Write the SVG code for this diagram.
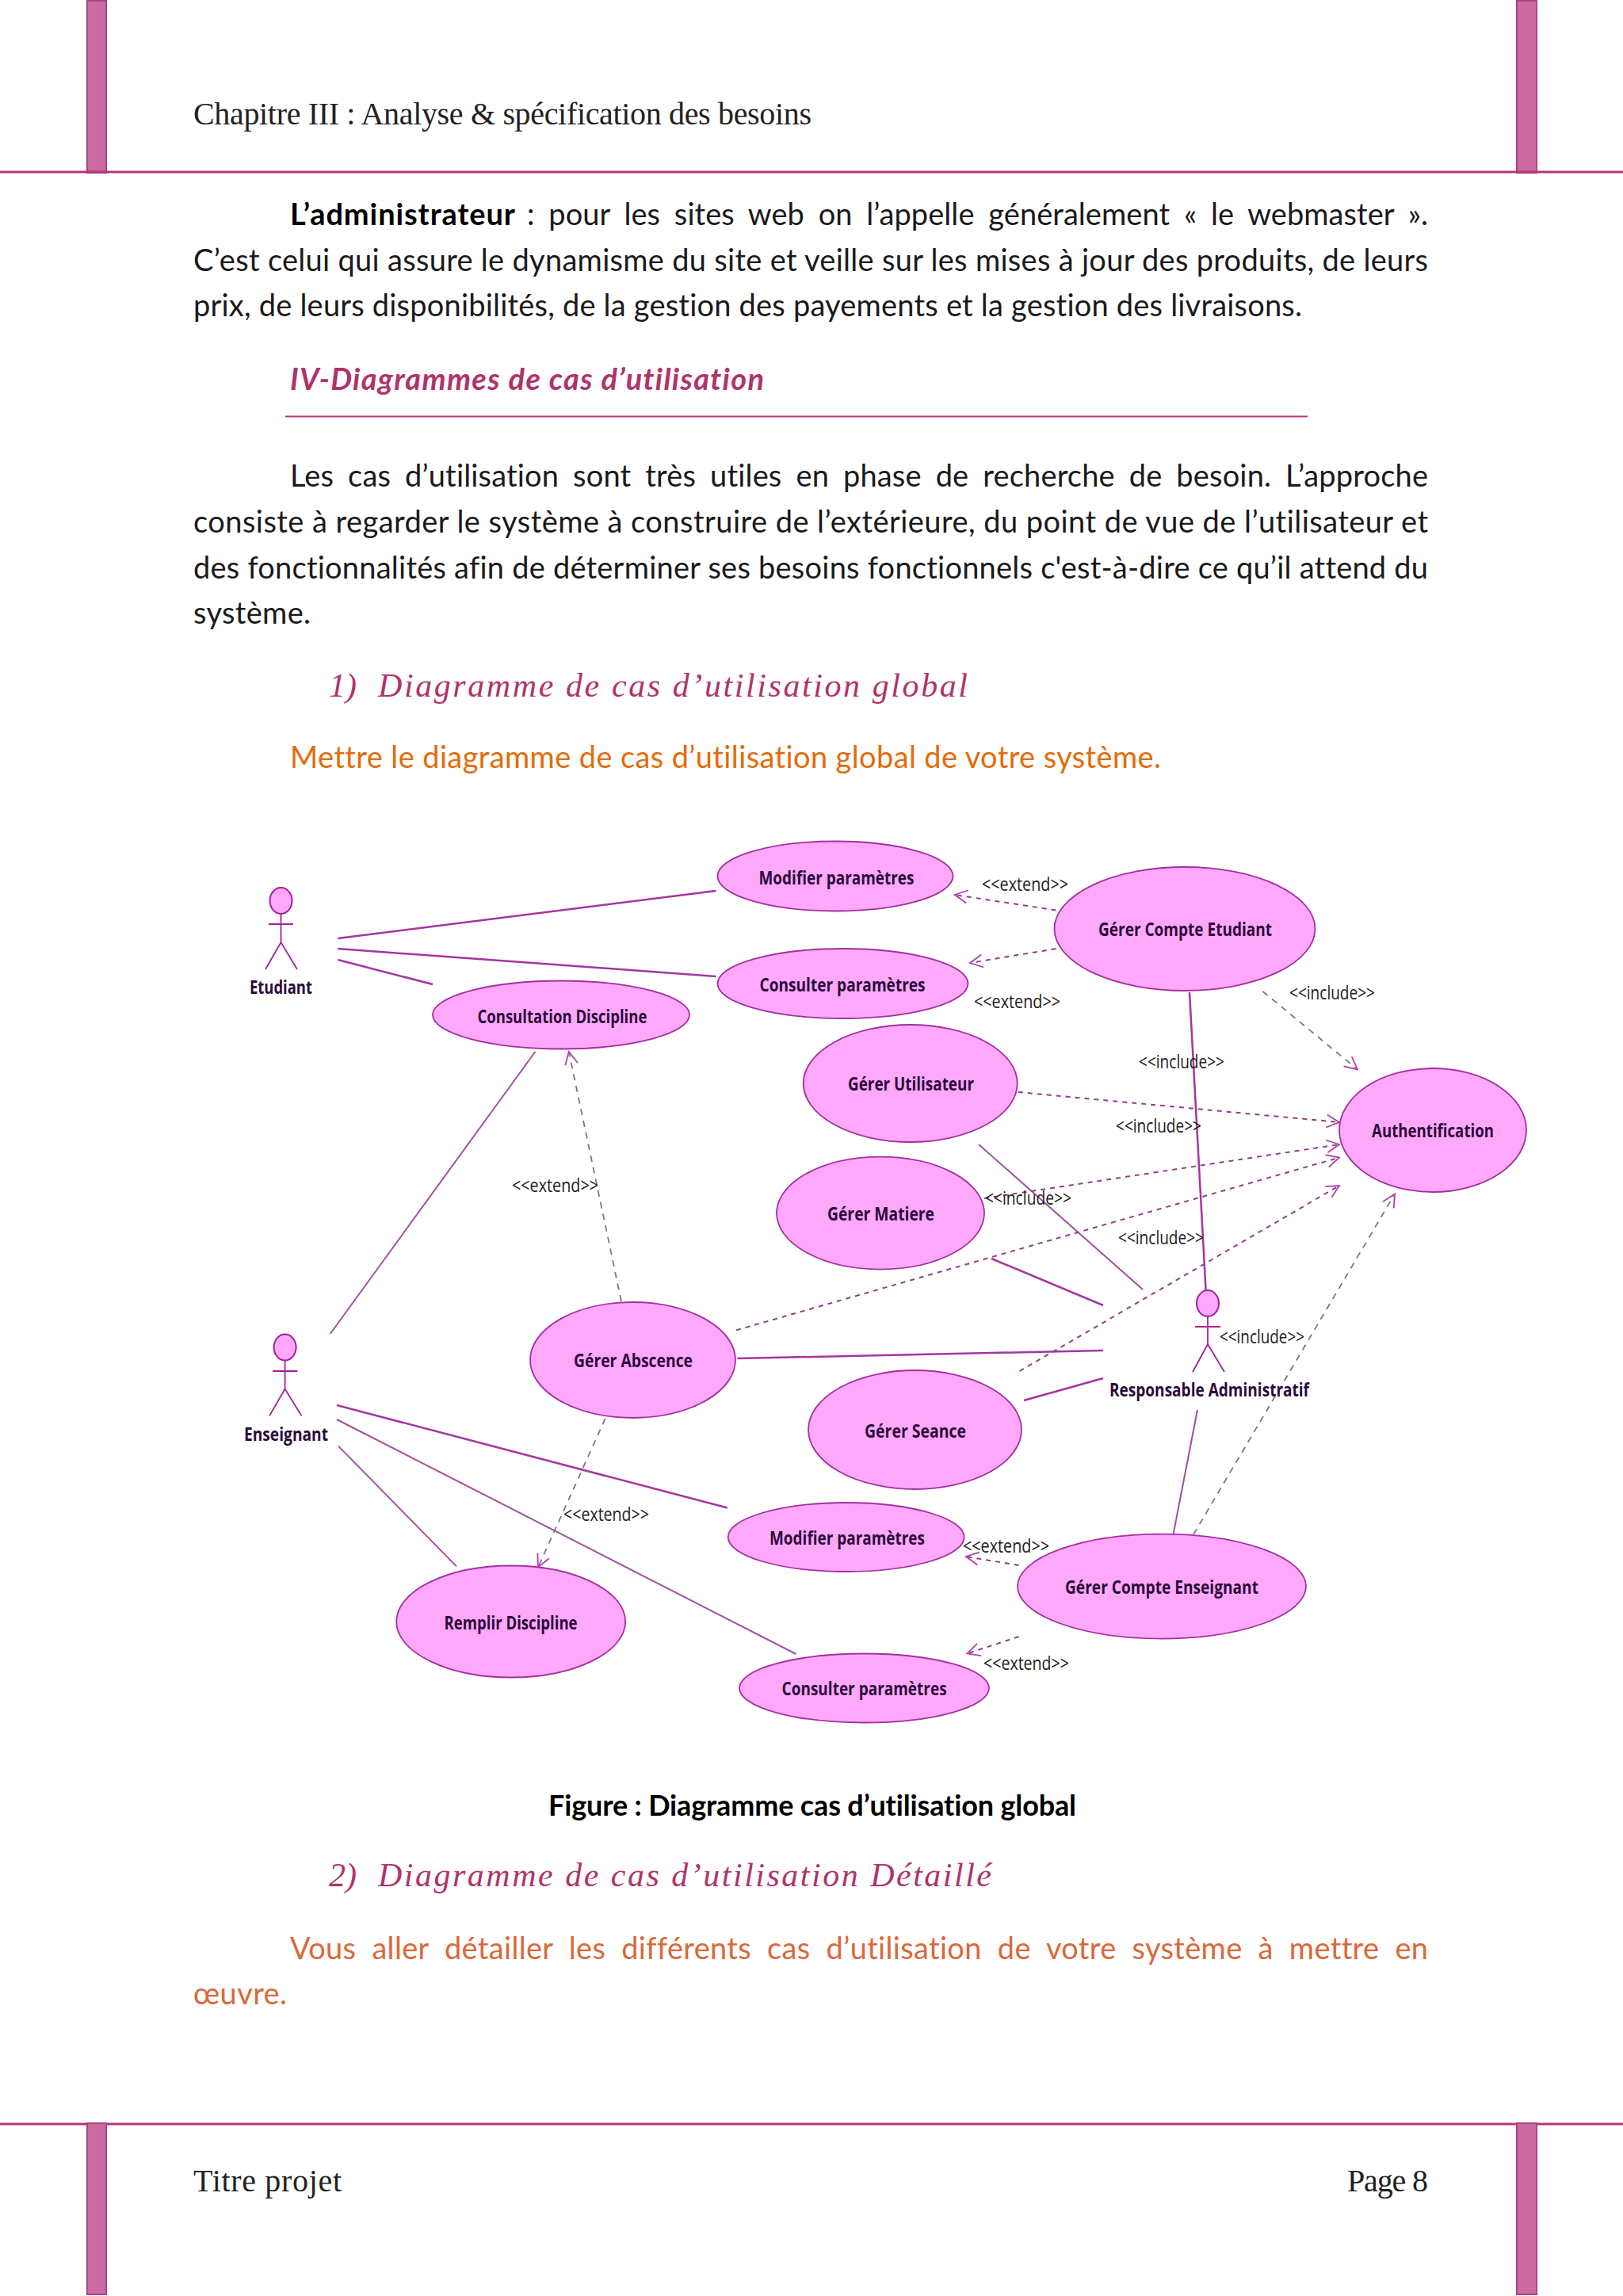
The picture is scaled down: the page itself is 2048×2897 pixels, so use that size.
<svg xmlns="http://www.w3.org/2000/svg" width="2048" height="2897" viewBox="0 0 2048 2897">
<style>
text{font-variant-ligatures:none}
.body{font-family:"Lato","Liberation Sans",sans-serif;font-size:38px;fill:#1a1a1a}
.b{font-weight:700;fill:#000}
.fig{font-size:36px}
.hdr{font-family:"Liberation Serif",serif;font-size:40px;fill:#222}
.h1{font-family:"Lato","Liberation Sans",sans-serif;font-size:38px;font-weight:700;font-style:italic;fill:#b0336a}
.h2{font-family:"Liberation Serif",serif;font-size:42px;font-style:italic;fill:#b0336a}
.or1{fill:#e36c0a}.or2{fill:#d9693a}
.bar{fill:#cb6aa3;stroke:#a8447f;stroke-width:2}
.rule{stroke:#b5357a;stroke-width:3}
.uc{fill:#ffa8fc;stroke:#a3309c;stroke-width:1.8}
.head{fill:#ffa8fc;stroke:#a3209c;stroke-width:2}
.limb{fill:none;stroke:#a3209c;stroke-width:1.8}
.nm{font-family:"Open Sans","Liberation Sans",sans-serif;font-size:24px;font-weight:700;fill:#2a0a3a}
.st{font-family:"Open Sans","Liberation Sans",sans-serif;font-size:23px;fill:#222}
.s{stroke:#a6359e;stroke-width:2.5;fill:none}
.t{stroke:#a050a0;stroke-width:2;fill:none}
.d{stroke:#8e3f8e;stroke-width:2;stroke-dasharray:6 6;fill:none;marker-end:url(#open)}
.g{stroke:#85708a;stroke-width:1.8;stroke-dasharray:8 7;fill:none;marker-end:url(#open)}
</style>
<defs>
<marker id="open" markerUnits="userSpaceOnUse" markerWidth="30" markerHeight="30" refX="22" refY="15" orient="auto">
<path d="M6 7 L22 15 L6 23" fill="none" stroke="#b040b0" stroke-width="1.8"/>
</marker>
</defs>
<rect width="2048" height="2897" fill="#fff"/>

<g id="page">
<rect class="bar" x="110" y="1" width="24" height="217"/>
<rect class="bar" x="1914" y="1" width="25" height="217"/>
<line class="rule" x1="0" y1="217" x2="2048" y2="217"/>
<text class="hdr" x="244" y="157" textLength="780">Chapitre III : Analyse &amp; spécification des besoins</text>
<text class="body b" x="366" y="284" textLength="284">L’administrateur</text>
<text class="body" x="665" y="284" textLength="1137" word-spacing="8">: pour les sites web on l’appelle généralement « le webmaster ».</text>
<text class="body" x="244" y="342" textLength="1558">C’est celui qui assure le dynamisme du site et veille sur les mises à jour des produits, de leurs</text>
<text class="body" x="244" y="399" textLength="1399">prix, de leurs disponibilités, de la gestion des payements et la gestion des livraisons.</text>
<text class="h1" x="366" y="492" textLength="598">IV-Diagrammes de cas d’utilisation</text>
<line x1="360" y1="525.5" x2="1650" y2="525.5" stroke="#b5357a" stroke-width="2"/>
<text class="body" x="366" y="614" textLength="1436" word-spacing="8">Les cas d’utilisation sont très utiles en phase de recherche de besoin. L’approche</text>
<text class="body" x="244" y="672" textLength="1558">consiste à regarder le système à construire de l’extérieure, du point de vue de l’utilisateur et</text>
<text class="body" x="244" y="730" textLength="1558">des fonctionnalités afin de déterminer ses besoins fonctionnels c'est-à-dire ce qu’il attend du</text>
<text class="body" x="244" y="787" textLength="148">système.</text>
<text class="h2" x="415" y="879">1)</text>
<text class="h2" x="477" y="879" textLength="744">Diagramme de cas d’utilisation global</text>
<text class="body or1" x="366" y="969" textLength="1099">Mettre le diagramme de cas d’utilisation global de votre système.</text>
<text class="body b fig" x="692" y="2291" textLength="666">Figure : Diagramme cas d’utilisation global</text>
<text class="h2" x="415" y="2380">2)</text>
<text class="h2" x="477" y="2380" textLength="774">Diagramme de cas d’utilisation Détaillé</text>
<text class="body or2" x="366" y="2472" textLength="1436" word-spacing="10">Vous aller détailler les différents cas d’utilisation de votre système à mettre en</text>
<text class="body or2" x="244" y="2529" textLength="118">œuvre.</text>
<line class="rule" x1="0" y1="2680" x2="2048" y2="2680"/>
<rect class="bar" x="110" y="2679" width="24" height="216"/>
<rect class="bar" x="1914" y="2679" width="25" height="216"/>
<text class="hdr" x="244" y="2765" textLength="187">Titre projet</text>
<text class="hdr" x="1700" y="2765" textLength="102">Page 8</text>
</g>

<g id="connectors">
<line class="s" x1="426.4" y1="1184" x2="903.5" y2="1124"/>
<line class="s" x1="426.4" y1="1197" x2="903.5" y2="1232"/>
<line class="s" x1="426.4" y1="1211" x2="546" y2="1242"/>
<line class="t" x1="675.4" y1="1327" x2="416.7" y2="1683"/>
<line class="s" x1="1501" y1="1252" x2="1521.6" y2="1629"/>
<line class="t" x1="1235" y1="1444" x2="1442" y2="1627"/>
<line class="s" x1="1251" y1="1588" x2="1392" y2="1647"/>
<line class="s" x1="930.5" y1="1714" x2="1392" y2="1704"/>
<line class="s" x1="1292" y1="1767" x2="1392" y2="1739"/>
<line class="t" x1="1511" y1="1779" x2="1480.5" y2="1936"/>
<line class="s" x1="425" y1="1773" x2="917.8" y2="1902.5"/>
<line class="t" x1="425" y1="1791" x2="1004.5" y2="2087"/>
<line class="t" x1="427" y1="1824.6" x2="576" y2="1976.4"/>
<line class="g" x1="784" y1="1642" x2="717.8" y2="1327"/>
<line class="d" x1="1332.5" y1="1148.5" x2="1204.6" y2="1129"/>
<line class="d" x1="1332.5" y1="1197" x2="1224" y2="1215"/>
<line class="g" x1="1593.5" y1="1251" x2="1713" y2="1349.4"/>
<line class="d" x1="1284.8" y1="1378" x2="1690" y2="1416"/>
<line class="d" x1="1242" y1="1512" x2="1690" y2="1444"/>
<line class="d" x1="929" y1="1678.4" x2="1690" y2="1460.5"/>
<line class="d" x1="1286.6" y1="1730" x2="1690" y2="1496"/>
<line class="g" x1="1506" y1="1936" x2="1760" y2="1506.5"/>
<line class="g" x1="763.7" y1="1790" x2="679" y2="1977.5"/>
<line class="d" x1="1285.6" y1="1975" x2="1218.8" y2="1964"/>
<line class="d" x1="1285.6" y1="2065" x2="1220.3" y2="2086.4"/>
<text class="st" x="646" y="1504" textLength="109" lengthAdjust="spacingAndGlyphs">&lt;&lt;extend&gt;&gt;</text>
<text class="st" x="1239" y="1123.5" textLength="109" lengthAdjust="spacingAndGlyphs">&lt;&lt;extend&gt;&gt;</text>
<text class="st" x="1229" y="1272" textLength="109" lengthAdjust="spacingAndGlyphs">&lt;&lt;extend&gt;&gt;</text>
<text class="st" x="711" y="1919" textLength="108" lengthAdjust="spacingAndGlyphs">&lt;&lt;extend&gt;&gt;</text>
<text class="st" x="1215" y="1958.6" textLength="109" lengthAdjust="spacingAndGlyphs">&lt;&lt;extend&gt;&gt;</text>
<text class="st" x="1241" y="2107" textLength="108" lengthAdjust="spacingAndGlyphs">&lt;&lt;extend&gt;&gt;</text>
<text class="st" x="1627" y="1261" textLength="108" lengthAdjust="spacingAndGlyphs">&lt;&lt;include&gt;&gt;</text>
<text class="st" x="1437" y="1348" textLength="108" lengthAdjust="spacingAndGlyphs">&lt;&lt;include&gt;&gt;</text>
<text class="st" x="1408" y="1429" textLength="108" lengthAdjust="spacingAndGlyphs">&lt;&lt;include&gt;&gt;</text>
<text class="st" x="1243" y="1520" textLength="109" lengthAdjust="spacingAndGlyphs">&lt;&lt;include&gt;&gt;</text>
<text class="st" x="1411" y="1569.5" textLength="108" lengthAdjust="spacingAndGlyphs">&lt;&lt;include&gt;&gt;</text>
<text class="st" x="1539" y="1694.5" textLength="107" lengthAdjust="spacingAndGlyphs">&lt;&lt;include&gt;&gt;</text>
</g>

<g id="actor-etudiant">
<ellipse class="head" cx="354.5" cy="1136.5" rx="14" ry="16.5"/>
<path class="limb" d="M354.5 1153V1189M339 1166H370M335 1223L354.5 1189L375 1223"/>
<text class="nm" x="315" y="1254" textLength="79" lengthAdjust="spacingAndGlyphs">Etudiant</text>
</g>
<g id="actor-enseignant">
<ellipse class="head" cx="359.6" cy="1700" rx="14" ry="16.5"/>
<path class="limb" d="M359.6 1716.5V1752.5M344 1730H375.4M340 1786.4L359.6 1752.5L380.5 1786.4"/>
<text class="nm" x="308" y="1818" textLength="106" lengthAdjust="spacingAndGlyphs">Enseignant</text>
</g>
<g id="actor-responsable">
<ellipse class="head" cx="1524" cy="1644.5" rx="14" ry="16.5"/>
<path class="limb" d="M1524 1661V1696M1508 1674H1540M1505 1731L1524 1696L1545 1731"/>
<text class="nm" x="1400" y="1762" textLength="252" lengthAdjust="spacingAndGlyphs">Responsable Administratif</text>
</g>

<g id="uc-modifier-1"><ellipse class="uc" cx="1054" cy="1105.5" rx="148.5" ry="44"/><text class="nm" x="957.5" y="1116" textLength="196" lengthAdjust="spacingAndGlyphs">Modifier paramètres</text></g>
<g id="uc-consulter-1"><ellipse class="uc" cx="1063.5" cy="1241" rx="158" ry="44"/><text class="nm" x="958.6" y="1250.7" textLength="209" lengthAdjust="spacingAndGlyphs">Consulter paramètres</text></g>
<g id="uc-consultation"><ellipse class="uc" cx="708" cy="1280.5" rx="162" ry="43"/><text class="nm" x="602.4" y="1291" textLength="214" lengthAdjust="spacingAndGlyphs">Consultation Discipline</text></g>
<g id="uc-compte-etudiant"><ellipse class="uc" cx="1495" cy="1172" rx="164.5" ry="78"/><text class="nm" x="1386" y="1181" textLength="219" lengthAdjust="spacingAndGlyphs">Gérer Compte Etudiant</text></g>
<g id="uc-utilisateur"><ellipse class="uc" cx="1148.7" cy="1367" rx="135" ry="74"/><text class="nm" x="1070" y="1375.7" textLength="159" lengthAdjust="spacingAndGlyphs">Gérer Utilisateur</text></g>
<g id="uc-matiere"><ellipse class="uc" cx="1111" cy="1530.6" rx="131" ry="71"/><text class="nm" x="1044" y="1540" textLength="135" lengthAdjust="spacingAndGlyphs">Gérer Matiere</text></g>
<g id="uc-auth"><ellipse class="uc" cx="1808" cy="1426" rx="118" ry="78"/><text class="nm" x="1731" y="1435" textLength="154" lengthAdjust="spacingAndGlyphs">Authentification</text></g>
<g id="uc-abscence"><ellipse class="uc" cx="798.5" cy="1716" rx="129.5" ry="73"/><text class="nm" x="724" y="1724.6" textLength="150" lengthAdjust="spacingAndGlyphs">Gérer Abscence</text></g>
<g id="uc-seance"><ellipse class="uc" cx="1154.5" cy="1804" rx="134.5" ry="75"/><text class="nm" x="1091" y="1814" textLength="128" lengthAdjust="spacingAndGlyphs">Gérer Seance</text></g>
<g id="uc-modifier-2"><ellipse class="uc" cx="1067.7" cy="1939.5" rx="149" ry="43.5"/><text class="nm" x="971" y="1949" textLength="196" lengthAdjust="spacingAndGlyphs">Modifier paramètres</text></g>
<g id="uc-compte-enseignant"><ellipse class="uc" cx="1466" cy="2001.6" rx="182" ry="66"/><text class="nm" x="1344" y="2011.4" textLength="244" lengthAdjust="spacingAndGlyphs">Gérer Compte Enseignant</text></g>
<g id="uc-remplir"><ellipse class="uc" cx="644.7" cy="2046" rx="144.5" ry="70.5"/><text class="nm" x="560.6" y="2056" textLength="168" lengthAdjust="spacingAndGlyphs">Remplir Discipline</text></g>
<g id="uc-consulter-2"><ellipse class="uc" cx="1090.5" cy="2130" rx="157.5" ry="43.5"/><text class="nm" x="986.6" y="2139" textLength="208" lengthAdjust="spacingAndGlyphs">Consulter paramètres</text></g>
</svg>
